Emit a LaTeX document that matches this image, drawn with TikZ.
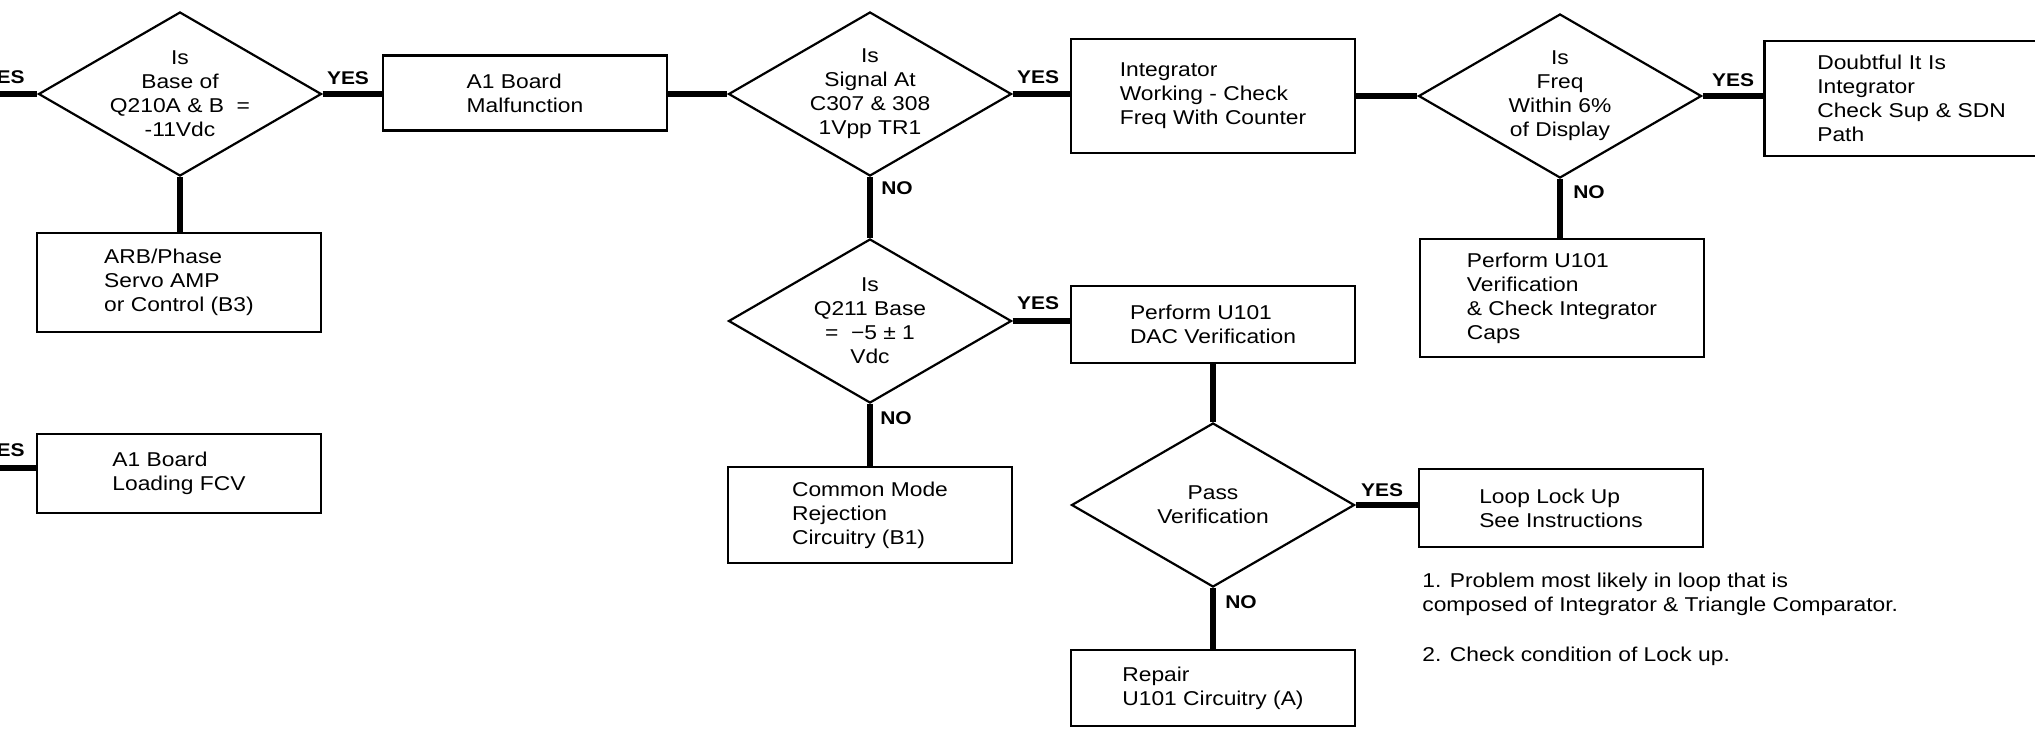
\documentclass[tikz,border=0pt]{standalone}
\usepackage{fontspec}
\setmainfont{Liberation Sans}[FakeStretch=1.14]
\usetikzlibrary{shapes.geometric}

\begin{document}
\begin{tikzpicture}[
    x=0.5pt, y=-0.5pt,
    every node/.style={font=\fontsize{10}{12}\selectfont},
    box/.style={draw, line width=1.3pt, minimum width=142pt, align=left, inner sep=0pt},
    test/.style={draw, diamond, line width=1.1pt, aspect=1.73, minimum width=141.5pt,
                 minimum height=82pt, inner sep=-6pt, align=center},
    ans/.style={font=\bfseries\fontsize{9.2}{11}\selectfont, inner sep=0pt},
    link/.style={line width=2.6pt}
]

\fill[white] (0,0) rectangle (2035,729);
\useasboundingbox (0,0) rectangle (2035,729);

% Decisions
\node[test] (isbase)   at (180,94)  {Is\\Base of\\Q210A \& B\ \ =\\-11Vdc};
\node[test] (issignal) at (870,94)  {Is\\Signal At\\C307 \& 308\\1Vpp TR1};
\node[test] (isfreq)   at (1560,96) {Is\\Freq\\Within 6\%\\of Display};
\node[test] (isq211)   at (870,321) {Is\\Q211 Base\\=\ \ −5 ± 1\\Vdc};
\node[test] (pass)     at (1213,505) {Pass\\Verification};

% Actions
\node[box, minimum height=37.5pt] (malf)    at (525,93)    {A1 Board\\Malfunction};
\node[box, minimum height=57pt]   (integ)   at (1213,96)   {Integrator\\Working - Check\\Freq With Counter};
\node[box, anchor=west, minimum height=57.5pt, text width=115.5pt, inner xsep=26.5pt]
                                  (doubt)   at (1763,98.5) {Doubtful It Is\\Integrator\\Check Sup \& SDN\\Path};
\node[box, minimum height=49.5pt] (arb)     at (179,282.5) {ARB/Phase\\Servo AMP\\or Control (B3)};
\node[box, minimum height=39.5pt] (loading) at (179,473.5) {A1 Board\\Loading FCV};
\node[box, minimum height=59pt]   (verif)   at (1562,298)  {Perform U101\\Verification\\\& Check Integrator\\Caps};
\node[box, minimum height=38.5pt] (dac)     at (1213,324.5) {Perform U101\\DAC Verification};
\node[box, minimum height=48pt]   (cmr)     at (870,515)   {Common Mode\\Rejection\\Circuitry (B1)};
\node[box, minimum height=38pt]   (repair)  at (1213,688)  {Repair\\U101 Circuitry (A)};
\node[box, minimum height=39pt]   (loop)    at (1561,508)  {Loop Lock Up\\See Instructions};

% Notes
\node[anchor=north west, align=left, inner sep=0pt] (note) at (1422,573)
    {1. Problem most likely in loop that is\\composed of Integrator \& Triangle Comparator.\\[13pt]2. Check condition of Lock up.};

% Answers
\node[ans, anchor=east] (es1) at (25,77)   {ES};
\node[ans, anchor=east] (es2) at (25,450)  {ES};
\node[ans] (yes1) at (348,78)   {YES};
\node[ans] (yes2) at (1038,77)  {YES};
\node[ans] (yes3) at (1733,80)  {YES};
\node[ans] (yes4) at (1038,303) {YES};
\node[ans] (yes5) at (1382,490) {YES};
\node[ans] (no2)  at (897,188)  {NO};
\node[ans] (no3)  at (1589,192) {NO};
\node[ans] (no4)  at (896,418)  {NO};
\node[ans] (no5)  at (1241,602) {NO};

% Incoming lines
\coordinate (in1) at (0,94);
\coordinate (in2) at (0,468);

% Flow lines
\draw[link] (in1) -- (isbase.west);
\draw[link] (isbase.east) -- (isbase.east -| malf.west);
\draw[link] (issignal.west -| malf.east) -- (issignal.west);
\draw[link] (issignal.east) -- (issignal.east -| integ.west);
\draw[link] (isfreq.west -| integ.east) -- (isfreq.west);
\draw[link] (isfreq.east) -- (isfreq.east -| doubt.west);
\draw[link] (isbase.south) -- (isbase.south |- arb.north);
\draw[link] (issignal.south) -- (isq211.north);
\draw[link] (isfreq.south) -- (isfreq.south |- verif.north);
\draw[link] (isq211.east) -- (isq211.east -| dac.west);
\draw[link] (isq211.south) -- (isq211.south |- cmr.north);
\draw[link] (dac.south) -- (dac.south |- pass.north);
\draw[link] (pass.east) -- (pass.east -| loop.west);
\draw[link] (pass.south) -- (pass.south |- repair.north);
\draw[link] (in2) -- (in2 -| loading.west);

\end{tikzpicture}
\end{document}
